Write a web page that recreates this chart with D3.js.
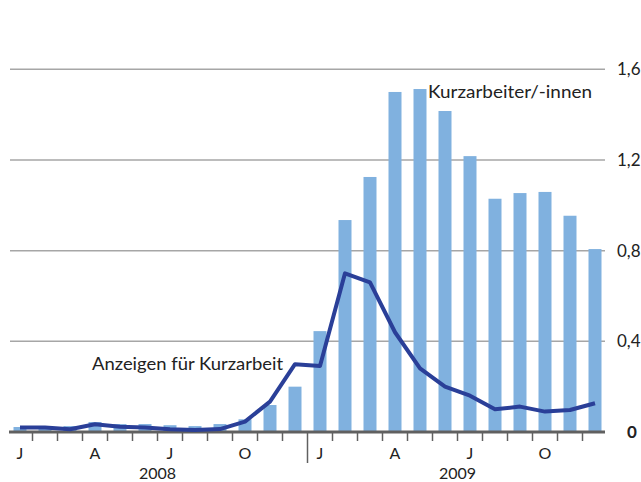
<!DOCTYPE html>
<html><head><meta charset="utf-8">
<script src="https://cdn.jsdelivr.net/npm/d3@7"></script>
<style>body{margin:0;background:#fff}svg{display:block}text{font-family:Lato,"Open Sans",sans-serif}</style>
</head><body><svg width="641" height="482"></svg>
<script>
const monthLabels = ["J","F","M","A","M","J","J","A","S","O","N","D","J","F","M","A","M","J","J","A","S","O","N","D"];
const years = ["2008","2009"];
const kurzarbeiter = [0.022,0.02,0.026,0.044,0.035,0.035,0.03,0.026,0.035,0.056,0.119,0.20,
                      0.445,0.935,1.125,1.50,1.513,1.416,1.217,1.029,1.054,1.059,0.954,0.807];
const anzeigen = [0.02,0.02,0.012,0.034,0.023,0.02,0.012,0.009,0.013,0.046,0.134,0.299,
                  0.291,0.70,0.66,0.44,0.281,0.20,0.16,0.10,0.112,0.09,0.097,0.127];
const yTicks = [0,0.4,0.8,1.2,1.6];
const shownMonths = [0,3,6,9,12,15,18,21];

const svg = d3.select("svg");
const idx = d3.range(monthLabels.length);
const x = d3.scaleBand().domain(idx).range([7.5,607.5]).paddingInner(0.48).paddingOuter(0.24);
const y = d3.scaleLinear().domain([0,1.6]).range([432,69.3]);
const cx = i => x(i) + x.bandwidth()/2;

// gridlines
svg.append("g").selectAll("line").data(yTicks.filter(d=>d>0)).join("line")
  .attr("x1",10).attr("x2",605).attr("y1",d=>y(d)).attr("y2",d=>y(d))
  .attr("stroke","#a6a6a6").attr("stroke-width",1.5);

// bars
svg.append("g").selectAll("rect").data(kurzarbeiter).join("rect")
  .attr("x",(d,i)=>x(i)).attr("width",x.bandwidth())
  .attr("y",d=>y(d)).attr("height",d=>y(0)-y(d))
  .attr("fill","#80b1df");

// axis baseline + ticks
svg.append("line").attr("x1",9).attr("x2",605).attr("y1",y(0)).attr("y2",y(0))
  .attr("stroke","#606060").attr("stroke-width",3);
svg.append("g").selectAll("line").data(d3.range(1,monthLabels.length)).join("line")
  .attr("x1",i=>x(i)-x.step()*x.paddingInner()/2).attr("x2",i=>x(i)-x.step()*x.paddingInner()/2)
  .attr("y1",y(0)).attr("y2",i=>i===12?463:441)
  .attr("stroke","#606060").attr("stroke-width",1.5);

// line
svg.append("path").datum(anzeigen)
  .attr("d",d3.line().x((d,i)=>cx(i)).y(d=>y(d)))
  .attr("fill","none").attr("stroke","#2a3f98").attr("stroke-width",4).attr("stroke-linejoin","round");

// month labels
svg.append("g").selectAll("text").data(shownMonths).join("text")
  .attr("x",i=>cx(i)).attr("y",459).attr("text-anchor","middle")
  .attr("font-size",16).attr("fill","#222").text(i=>monthLabels[i]);
svg.append("g").selectAll("text").data(years).join("text")
  .attr("x",(d,k)=>(cx(k*12)+cx(k*12+11))/2).attr("y",479).attr("text-anchor","middle")
  .attr("font-size",16).attr("fill","#222").text(d=>d);

// y labels
svg.append("g").selectAll("text").data(yTicks).join("text")
  .attr("x",d=>d===0?627:617).attr("y",d=>y(d)+6)
  .attr("font-size",17).attr("font-weight",d=>d===0?"bold":"normal").attr("fill","#222")
  .text(d=>d===0?"0":d3.format(".1f")(d).replace(".",","));

// annotations
svg.append("text").attr("x",428).attr("y",98).attr("font-size",18).attr("fill","#222")
  .attr("textLength",164).attr("lengthAdjust","spacingAndGlyphs").text("Kurzarbeiter/-innen");
svg.append("text").attr("x",92).attr("y",370).attr("font-size",18).attr("fill","#222")
  .attr("textLength",191).attr("lengthAdjust","spacingAndGlyphs").text("Anzeigen für Kurzarbeit");
</script></body></html>
